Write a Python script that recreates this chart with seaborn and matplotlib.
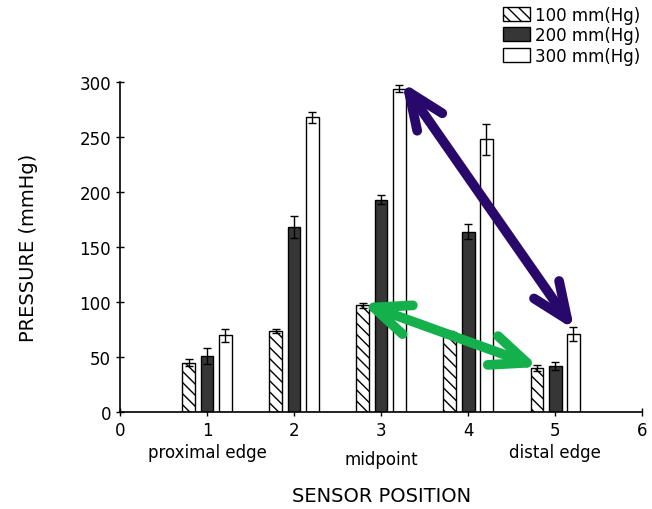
import matplotlib
matplotlib.use("Agg")
import matplotlib.pyplot as plt
import seaborn as sns
import pandas as pd
from matplotlib.patches import Patch

# ---- data ----
positions = [1, 2, 3, 4, 5]
levels = ["100 mm(Hg)", "200 mm(Hg)", "300 mm(Hg)"]
p100 = [45, 74, 97, 73, 40]
p200 = [51, 168, 193, 164, 42]
p300 = [70, 268, 294, 248, 71]
e100 = [3, 2, 2, 1, 3]
e200 = [7, 10, 4, 7, 4]
e300 = [6, 5, 3, 14, 6]
pos_labels = {1: "proximal edge", 3: "midpoint", 5: "distal edge"}

rows = []
for lvl, vals in zip(levels, [p100, p200, p300]):
    for x, v in zip(positions, vals):
        rows.append({"pos": x, "level": lvl, "pressure": v})
df = pd.DataFrame(rows)

sns.set_style("ticks")
plt.rcParams["font.family"] = ["DejaVu Sans"]
plt.rcParams["text.color"] = "black"
plt.rcParams["axes.labelcolor"] = "black"

fig = plt.figure(figsize=(6.52, 5.10), dpi=100)
ax = fig.add_axes([0.184, 0.190, 0.801, 0.647])

colors = {"100 mm(Hg)": "white", "200 mm(Hg)": "#363636", "300 mm(Hg)": "white"}
sns.barplot(data=df, x="pos", y="pressure", hue="level", hue_order=levels,
            palette=colors, native_scale=True, width=0.63, gap=0.3,
            errorbar=None, edgecolor="black", linewidth=1.0, legend=False, ax=ax)

hatches = ["\\\\\\", "", ""]
errs = [e100, e200, e300]
for cont, h, err in zip(ax.containers, hatches, errs):
    xs = []
    ys = []
    for bar in cont:
        bar.set_hatch(h)
        xs.append(bar.get_x() + bar.get_width() / 2)
        ys.append(bar.get_height())
    ax.errorbar(xs, ys, yerr=err, fmt="none", ecolor="black", elinewidth=1.0,
                capsize=3, capthick=1.0, zorder=3)

ax.set_xlim(0, 6)
ax.set_ylim(0, 300)
ax.set_xticks(range(0, 7))
ax.set_yticks(range(0, 301, 50))
ax.tick_params(direction="inout", length=6, width=1, labelsize=12,
               colors="black", labelcolor="black")
for s in ["top", "right"]:
    ax.spines[s].set_visible(False)
for s in ["left", "bottom"]:
    ax.spines[s].set_linewidth(1.2)
    ax.spines[s].set_color("black")

ax.set_xlabel("SENSOR POSITION", fontsize=14, labelpad=34)
ax.set_ylabel("PRESSURE (mmHg)", fontsize=14, labelpad=30)

for x, lab in pos_labels.items():
    dy = -34 if x == 3 else -29
    ax.annotate(lab, xy=(x, 0), xycoords="data", xytext=(0, dy),
                textcoords="offset points", ha="center", va="center",
                fontsize=12, color="black")

# arrows
style = "<->,head_length=2.6,head_width=1.1"
ax.annotate("", xy=(3.24, 300), xytext=(5.22, 75), xycoords="data",
            arrowprops=dict(arrowstyle=style, color="#28096b", lw=7,
                            shrinkA=0, shrinkB=0, capstyle="round",
                            joinstyle="round", mutation_scale=10),
            annotation_clip=False)
ax.annotate("", xy=(2.78, 99), xytext=(4.81, 41), xycoords="data",
            arrowprops=dict(arrowstyle=style, color="#13b04b", lw=7,
                            shrinkA=0, shrinkB=0, capstyle="round",
                            joinstyle="round", mutation_scale=10),
            annotation_clip=False)

handles = [Patch(facecolor="white", edgecolor="black", hatch="\\\\\\"),
           Patch(facecolor="#363636", edgecolor="black"),
           Patch(facecolor="white", edgecolor="black")]
fig.legend(handles, levels, loc="upper right", bbox_to_anchor=(1.0, 1.01),
           frameon=False, fontsize=12, handlelength=1.6, handleheight=0.9,
           handletextpad=0.3, labelspacing=0.15, borderaxespad=0.3)

fig.savefig("out.png", dpi=100)
